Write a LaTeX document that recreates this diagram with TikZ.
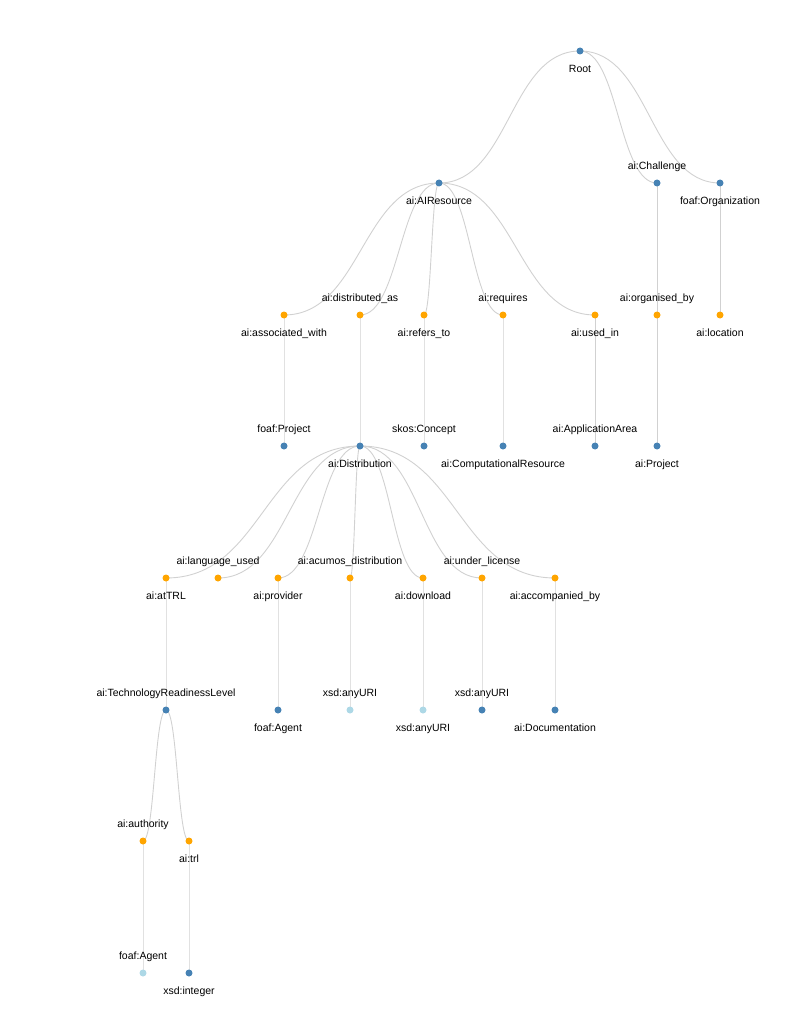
\documentclass[tikz,border=0pt]{standalone}
\usepackage{fontspec}
\setmainfont{Liberation Sans}
\usetikzlibrary{calc,backgrounds}

\tikzset{
    dot/.style={circle, inner sep=0pt, minimum size=7pt, fill=#1},
    dot/.default={steelblue},
    lbl/.style={inner sep=0pt, text height=8.8pt, text depth=2.2pt, font=\fontsize{10.5}{12}\selectfont},
    lblup/.style={label={[lbl, yshift=-1.5pt]above:#1}},
    lbldn/.style={label={[lbl]below:#1}},
    link/.style={draw=black!18, line width=0.9pt, to path={
        .. controls ($(\tikztostart)!0.5!(\tikztotarget |- \tikztostart)$)
        and ($(\tikztostart |- \tikztotarget)!0.5!(\tikztotarget)$) .. (\tikztotarget)}}
}
\definecolor{steelblue}{HTML}{4682B4}
\definecolor{dotorange}{HTML}{FFA500}
\definecolor{paleblue}{HTML}{ADD8E6}

\begin{document}
\begin{tikzpicture}[x=1pt, y=-1pt, label distance=8.7pt]
    \useasboundingbox (0,0) rectangle (798,1024);

    % root and first level
    \node[dot, lbldn=Root] (root) at (580,51) {};
    \node[dot, lbldn=ai:AIResource] (air) at (439,183) {};
    \node[dot, lblup=ai:Challenge] (chal) at (657,183) {};
    \node[dot, lbldn=foaf:Organization] (org) at (720,183) {};

    % properties of the resource, challenge and organization
    \node[dot=dotorange, lbldn=ai:associated\_with] (assoc) at (284,315) {};
    \node[dot=dotorange, lblup=ai:distributed\_as] (distas) at (360,315) {};
    \node[dot=dotorange, lbldn=ai:refers\_to] (refers) at (424,315) {};
    \node[dot=dotorange, lblup=ai:requires] (req) at (503,315) {};
    \node[dot=dotorange, lbldn=ai:used\_in] (usedin) at (595,315) {};
    \node[dot=dotorange, lblup=ai:organised\_by] (orgby) at (657,315) {};
    \node[dot=dotorange, lbldn=ai:location] (loc) at (720,315) {};

    \node[dot, lblup=foaf:Project] (fproj) at (284,446) {};
    \node[dot, lbldn=ai:Distribution] (dist) at (360,446) {};
    \node[dot, lblup=skos:Concept] (concept) at (424,446) {};
    \node[dot, lbldn=ai:ComputationalResource] (comp) at (503,446) {};
    \node[dot, lblup=ai:ApplicationArea] (area) at (595,446) {};
    \node[dot, lbldn=ai:Project] (proj) at (657,446) {};

    % properties of the distribution
    \node[dot=dotorange, lbldn=ai:atTRL] (attrl) at (166,578) {};
    \node[dot=dotorange, lblup=ai:language\_used] (lang) at (218,578) {};
    \node[dot=dotorange, lbldn=ai:provider] (prov) at (278,578) {};
    \node[dot=dotorange, lblup=ai:acumos\_distribution] (acumos) at (350,578) {};
    \node[dot=dotorange, lbldn=ai:download] (down) at (423,578) {};
    \node[dot=dotorange, lblup=ai:under\_license] (lic) at (482,578) {};
    \node[dot=dotorange, lbldn=ai:accompanied\_by] (acc) at (555,578) {};

    \node[dot, lblup=ai:TechnologyReadinessLevel] (trlvl) at (166,710) {};
    \node[dot, lbldn=foaf:Agent] (agent) at (278,710) {};
    \node[dot=paleblue, lblup=xsd:anyURI] (uria) at (350,710) {};
    \node[dot=paleblue, lbldn=xsd:anyURI] (urib) at (423,710) {};
    \node[dot, lblup=xsd:anyURI] (uric) at (482,710) {};
    \node[dot, lbldn=ai:Documentation] (doc) at (555,710) {};

    % readiness level branch
    \node[dot=dotorange, lblup=ai:authority] (auth) at (143,841) {};
    \node[dot=dotorange, lbldn=ai:trl] (trl) at (189,841) {};
    \node[dot=paleblue, lblup=foaf:Agent] (agentb) at (143,973) {};
    \node[dot, lbldn=xsd:integer] (int) at (189,973) {};

    % links behind the dots
    \begin{scope}[on background layer]
        \foreach \a/\b in {root/air, root/chal, root/org,
                air/assoc, air/distas, air/refers, air/req, air/usedin,
                chal/orgby, org/loc,
                assoc/fproj, distas/dist, refers/concept, req/comp, usedin/area, orgby/proj,
                dist/attrl, dist/lang, dist/prov, dist/acumos, dist/down, dist/lic, dist/acc,
                attrl/trlvl, prov/agent, acumos/uria, down/urib, lic/uric, acc/doc,
                trlvl/auth, trlvl/trl, auth/agentb, trl/int}
            \draw[link] (\a.center) to (\b.center);
    \end{scope}
\end{tikzpicture}
\end{document}
